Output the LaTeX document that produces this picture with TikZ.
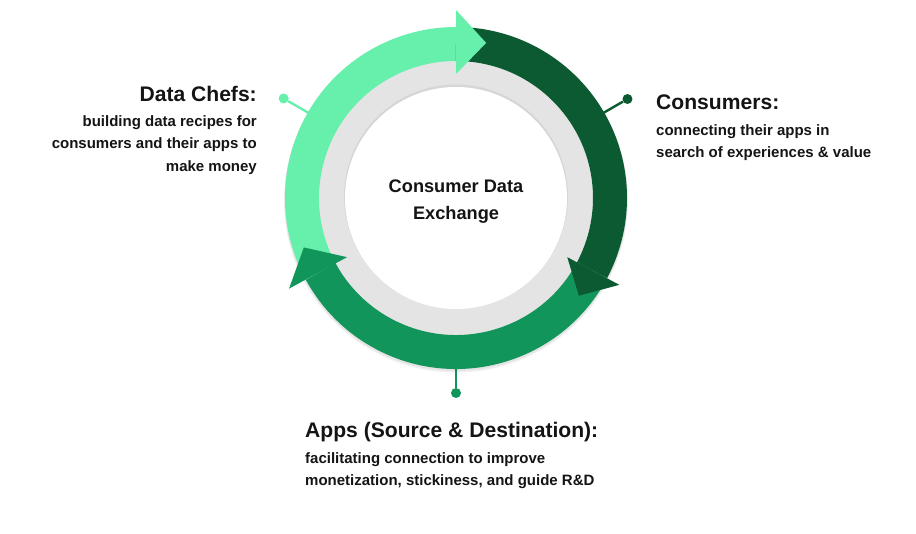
\documentclass[tikz,border=0pt]{standalone}
\usepackage{fontspec}
\setmainfont{Liberation Sans}
\usetikzlibrary{calc}
\definecolor{chefgreen}{HTML}{66F0AC}
\definecolor{consumergreen}{HTML}{0B5A31}
\definecolor{appgreen}{HTML}{11955A}
\definecolor{ringgray}{HTML}{E4E4E4}
\definecolor{inkblack}{HTML}{141414}

\begin{document}
\begin{tikzpicture}[x=1pt, y=1pt,
  band/.style={line width=34pt},
  pin/.style={line width=2.4pt},
  pindot/.style={circle, inner sep=0pt, minimum size=10pt},
  title/.style={font=\fontsize{21.1}{26}\selectfont\bfseries, text=inkblack, inner sep=0pt},
  blurb/.style={font=\fontsize{15}{22.3}\selectfont\bfseries, text=inkblack, inner sep=0pt},
  hub/.style={font=\fontsize{18.2}{27}\selectfont\bfseries, text=inkblack, align=center}
]
\useasboundingbox (0,0) rectangle (916,533);
\coordinate (c) at (456,335);

% pins
\coordinate (chefbase) at ($(c)+(150:165)$);
\coordinate (consbase) at ($(c)+(30:165)$);
\coordinate (appbase) at ($(c)+(-90:165)$);
\node[pindot, fill=chefgreen] (chefdot) at ($(c)+(150:199)$) {};
\node[pindot, fill=consumergreen] (consdot) at ($(c)+(30:198)$) {};
\node[pindot, fill=appgreen] (appdot) at ($(c)+(-90:195)$) {};
\draw[pin, chefgreen] (chefbase) -- (chefdot);
\draw[pin, consumergreen] (consbase) -- (consdot);
\draw[pin, appgreen] (appbase) -- (appdot);

% soft shadow + inner disc
\fill[black, opacity=0.06] ($(c)+(0,-2.5)$) circle[radius=172];
\fill[black, opacity=0.05] ($(c)+(0,-1.5)$) circle[radius=171.5];
\fill[ringgray] (c) circle[radius=137];
\fill[black, opacity=0.06] ($(c)+(0,1.5)$) circle[radius=112];
\fill[white] (c) circle[radius=111];
\node[hub] (hubtext) at (456,331) {Consumer Data\\Exchange};

% ring bands
\draw[band, chefgreen] ($(c)+(208.5:154)$) arc[start angle=208.5, end angle=90, radius=154];
\draw[band, consumergreen] ($(c)+(90:154)$) arc[start angle=90, end angle=-28, radius=154];
\draw[band, appgreen] ($(c)+(-28:154)$) arc[start angle=-28, end angle=-151.5, radius=154];

% arrow heads
\fill[chefgreen, shift={(c)}] (90:124) -- (90:188) -- (79:158) -- cycle;
\fill[consumergreen, shift={(c)}] (-28:126) -- (-28:185) -- (-38.5:157) -- cycle;
\fill[appgreen, shift={(c)}] (208.5:124) -- (208.5:190) -- (198:160) -- cycle;

% labels
\node[title, anchor=base east] (cheftitle) at (257,431) {Data Chefs:};
\node[blurb, align=right, anchor=north east] (chefblurb) at (257,417.5)
  {building data recipes for\\consumers and their apps to\\make money};
\node[title, anchor=base west] (constitle) at (656,423) {Consumers:};
\node[blurb, align=left, anchor=north west] (consblurb) at (656,409)
  {connecting their apps in\\search of experiences \& value};
\node[title, anchor=base west] (apptitle) at (305,95) {Apps (Source \& Destination):};
\node[blurb, align=left, anchor=north west] (appblurb) at (305,81)
  {facilitating connection to improve\\monetization, stickiness, and guide R\&D};
\end{tikzpicture}
\end{document}
